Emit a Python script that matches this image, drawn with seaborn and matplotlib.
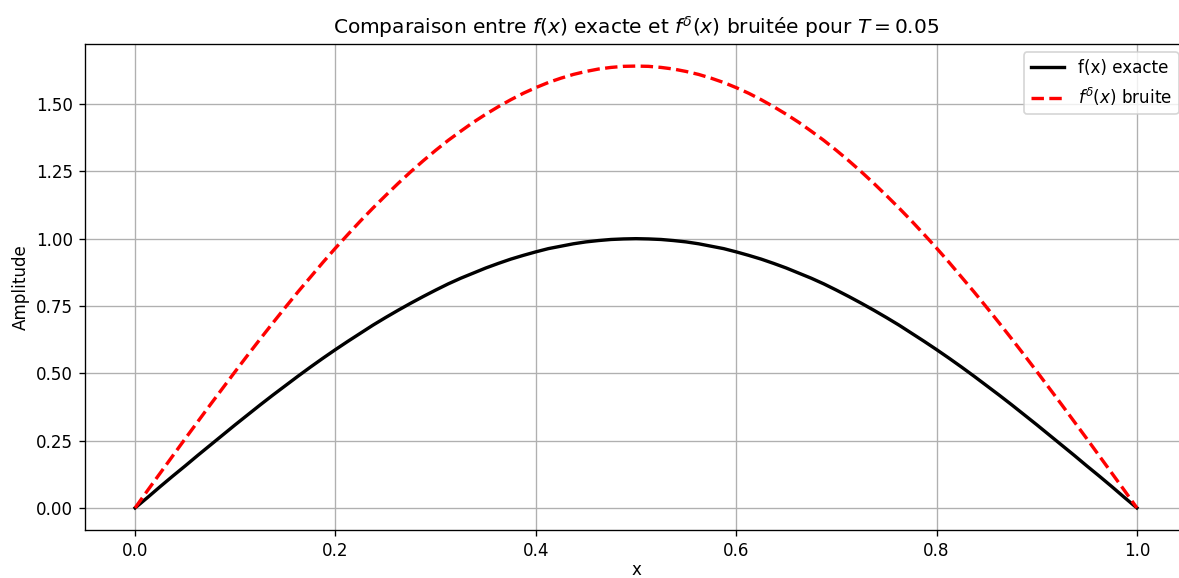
import matplotlib
matplotlib.use("Agg")
import matplotlib.pyplot as plt
import seaborn as sns
import pandas as pd
import numpy as np

# sampling grid on x (0 to 1, 81 samples)
x_vals = np.linspace(0.0, 1.0, 81)

# exact curve (black)
f_exact = [0.0, 0.039, 0.079, 0.118, 0.156, 0.195, 0.233, 0.271, 0.309, 0.346,
           0.383, 0.419, 0.454, 0.489, 0.523, 0.556, 0.588, 0.619, 0.649, 0.679,
           0.707, 0.734, 0.760, 0.785, 0.809, 0.832, 0.853, 0.872, 0.891, 0.908,
           0.924, 0.938, 0.951, 0.963, 0.972, 0.981, 0.988, 0.993, 0.997, 0.999,
           1.0,
           0.999, 0.997, 0.993, 0.988, 0.981, 0.972, 0.963, 0.951, 0.938, 0.924,
           0.908, 0.891, 0.872, 0.853, 0.832, 0.809, 0.785, 0.760, 0.734, 0.707,
           0.679, 0.649, 0.619, 0.588, 0.556, 0.523, 0.489, 0.454, 0.419, 0.383,
           0.346, 0.309, 0.271, 0.233, 0.195, 0.156, 0.118, 0.079, 0.039, 0.0]

# noisy curve (red dashed)
f_noisy = [0.0, 0.065, 0.129, 0.193, 0.257, 0.320, 0.383, 0.445, 0.507, 0.568,
           0.628, 0.687, 0.745, 0.802, 0.857, 0.912, 0.965, 1.016, 1.066, 1.114,
           1.160, 1.205, 1.248, 1.289, 1.328, 1.365, 1.399, 1.432, 1.462, 1.490,
           1.516, 1.540, 1.561, 1.580, 1.596, 1.610, 1.621, 1.630, 1.636, 1.640,
           1.641,
           1.640, 1.636, 1.630, 1.621, 1.610, 1.596, 1.580, 1.561, 1.540, 1.516,
           1.490, 1.462, 1.432, 1.399, 1.365, 1.328, 1.289, 1.248, 1.205, 1.160,
           1.114, 1.066, 1.016, 0.965, 0.912, 0.857, 0.802, 0.745, 0.687, 0.628,
           0.568, 0.507, 0.445, 0.383, 0.320, 0.257, 0.193, 0.129, 0.065, 0.0]

labels = ["f(x) exacte", r"$f^\delta(x)$ bruite"]

df_exact = pd.DataFrame({"x": x_vals, "y": f_exact})
df_noisy = pd.DataFrame({"x": x_vals, "y": f_noisy})

DPI = 121
fig = plt.figure(figsize=(1179 / DPI, 578 / DPI), dpi=DPI)
ax = fig.add_axes([85 / 1179, 48 / 578, (1187 - 85) / 1179, (530 - 44) / 578])

sns.lineplot(data=df_exact, x="x", y="y", ax=ax, color="black", linewidth=2,
             label=labels[0])
sns.lineplot(data=df_noisy, x="x", y="y", ax=ax, color="red", linewidth=2,
             linestyle="--", label=labels[1])

ax.set_xlim(-0.05, 1.05)
ax.set_ylim(-0.082, 1.723)
ax.set_xticks([0.0, 0.2, 0.4, 0.6, 0.8, 1.0])
ax.set_yticks([0.0, 0.25, 0.5, 0.75, 1.0, 1.25, 1.5])
ax.set_yticklabels(["0.00", "0.25", "0.50", "0.75", "1.00", "1.25", "1.50"])
ax.set_xlabel("x", labelpad=1)
ax.set_ylabel("Amplitude")
ax.set_title(r"Comparaison entre $f(x)$ exacte et $f^\delta(x)$ bruitée pour $T = 0.05$",
             fontsize=12)
ax.grid(True, color="#b0b0b0", linewidth=0.8)
ax.legend(loc="upper right")

fig.savefig("out.png", dpi=DPI)
